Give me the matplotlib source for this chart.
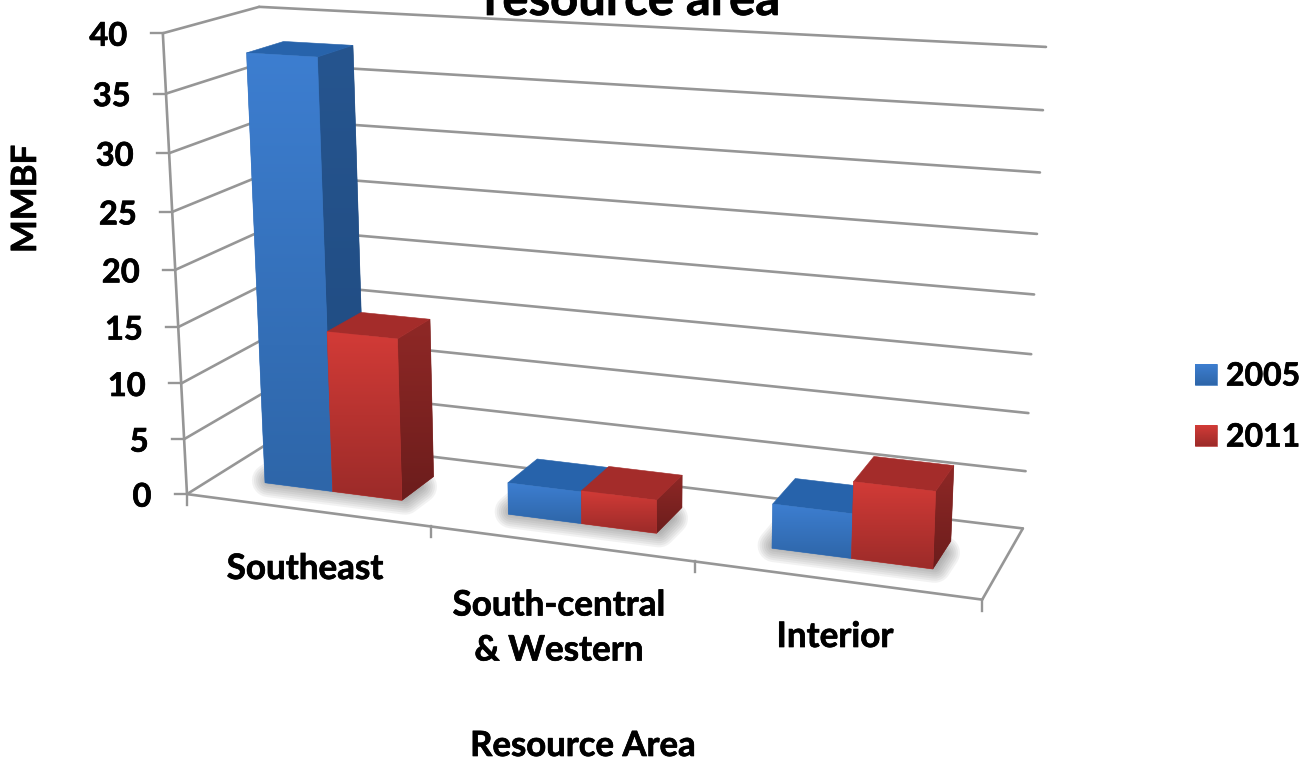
import numpy as np
import matplotlib
matplotlib.use('Agg')
import matplotlib.pyplot as plt
import matplotlib.patheffects as pe
from matplotlib.patches import Polygon
from matplotlib.colors import to_rgb

categories = ['Southeast', 'South-central\n& Western', 'Interior']
series_names = ['2005', '2011']
values_2005 = [37.9, 2.8, 3.8]
values_2011 = [14.4, 2.9, 6.5]
y_ticks = [0, 5, 10, 15, 20, 25, 30, 35, 40]
title = 'resource area'
x_title = 'Resource Area'
y_title = 'MMBF'

FONT = 'Lato'
GRID = '#969696'
STYLE = {
    '2005': dict(front=('#3d7ed0', '#2e66a9'), side=('#26558f', '#1f4a7f'), top='#2763ab'),
    '2011': dict(front=('#d23b37', '#9c2b29'), side=('#8f2826', '#6c1d1c'), top='#a42c2a'),
}

# perspective camera: (category position, depth, value) -> figure pixels
world = np.array([(0, 0, 0), (3, 0, 0), (3, 1, 0), (0, 1, 0), (0, 0, 40), (3, 1, 40), (0, 1, 40)], float)
screen = np.array([(187, 494), (982, 600), (1023, 528), (277, 438), (163, 33), (1046, 47), (259, 7)], float)
rows, rhs = [], []
for (a, b, c), (u, v) in zip(world, screen):
    rows.append([a, b, c, 1, 0, 0, 0, 0, -u * a, -u * b, -u * c]); rhs.append(u)
    rows.append([0, 0, 0, 0, a, b, c, 1, -v * a, -v * b, -v * c]); rhs.append(v)
H = np.append(np.linalg.lstsq(np.array(rows), np.array(rhs), rcond=None)[0], 1).reshape(3, 4)


def P(x, d, z):
    u, v, w = H @ np.array([x, d, z, 1.0])
    return (u / w, v / w)


fig = plt.figure(figsize=(13.05, 7.6), dpi=100)
ax = fig.add_axes([0, 0, 1, 1])
ax.axis('off')
BOLD = [pe.withStroke(linewidth=0.5, foreground='black')]


def label(u, v, s, size, **kw):
    kw.setdefault('ha', 'center')
    kw.setdefault('va', 'center')
    return ax.text(u, v, s, fontsize=size, family=FONT, weight='bold', color='black', path_effects=BOLD, **kw)


def line(a, b, z=1):
    ax.plot([a[0], b[0]], [a[1], b[1]], color=GRID, lw=1.9, solid_capstyle='round', zorder=z)


def grad(pts, c0, c1, z):
    pts = np.array(pts)
    n = 64
    t = np.linspace(0, 1, n)[:, None, None]
    img = (1 - t) * np.array(to_rgb(c0))[None, None, :] + t * np.array(to_rgb(c1))[None, None, :]
    mid = tuple(img[n // 2, 0])
    ax.add_patch(Polygon(pts, closed=True, fc=mid, ec=mid, lw=0.4, zorder=z))
    im = ax.imshow(img, extent=(pts[:, 0].min(), pts[:, 0].max(), pts[:, 1].max(), pts[:, 1].min()),
                   aspect='auto', interpolation='bilinear', zorder=z + 0.01)
    im.set_clip_path(Polygon(pts, closed=True, transform=ax.transData))


# walls and floor
for t in y_ticks:
    a, b, c = P(0, 0, t), P(0, 1, t), P(3, 1, t)
    line(a, b)
    line(b, c)
    ax.plot([a[0] - 12, a[0]], [a[1], a[1]], color=GRID, lw=1.7, zorder=1)
    label(a[0] - 35.5, a[1] + 3, str(t), 23.5, ha='right')
line(P(0, 0, 0), P(0, 0, 40))
line(P(0, 0, 0), P(3, 0, 0))
line(P(3, 0, 0), P(3, 1, 0))
for i in range(4):
    a = P(i, 0, 0)
    ax.plot([a[0], a[0]], [a[1], a[1] + 11], color=GRID, lw=1.7, zorder=1)

# bars
W = 0.286
MARGIN = 0.214
D0, D1 = 0.3, 0.7
for i in range(len(categories)):
    # soft shadow round the front part of the group footprint
    sd0, sd1 = D0 + 0.04, D1 - 0.17
    foot = [P(i + MARGIN, sd0, 0), P(i + MARGIN + 2 * W, sd0, 0),
            P(i + MARGIN + 2 * W, sd1, 0), P(i + MARGIN, sd1, 0)]
    for lw in range(24, 0, -3):
        ax.add_patch(Polygon(foot, closed=True, fc='#606060', ec='#606060', lw=lw, alpha=0.08,
                             joinstyle='round', zorder=2))
    for s, vals in enumerate([values_2005, values_2011]):
        st = STYLE[series_names[s]]
        v = vals[i]
        x0, x1 = i + MARGIN + s * W, i + MARGIN + (s + 1) * W
        z = 3 + s + i * 3
        grad([P(x1, D0, v), P(x1, D1, v), P(x1, D1, 0), P(x1, D0, 0)], *st['side'], z)
        ax.add_patch(Polygon([P(x0, D0, v), P(x1, D0, v), P(x1, D1, v), P(x0, D1, v)], closed=True,
                             fc=st['top'], ec=st['top'], lw=0.4, zorder=z + 0.1))
        grad([P(x0, D0, v), P(x1, D0, v), P(x1, D0, 0), P(x0, D0, 0)], *st['front'], z + 0.2)

# category labels
label_pos = [(305, 569), (559, 628), (835, 637)]
for name, (u, v) in zip(categories, label_pos):
    label(u, v, name, 25.2, linespacing=1.5, multialignment='center')

label(583, 746, x_title, 25)
label(26, 199, y_title, 25, rotation=90)
label(632, 15, title, 35.3, va='baseline')

# legend
for name, top in zip(series_names, (364, 425)):
    grad([(1195, top), (1217, top), (1217, top + 21), (1195, top + 21)], *STYLE[name]['front'], 10)
    label(1226, top + 12, name, 23, ha='left')

ax.set_xlim(0, 1305)
ax.set_ylim(760, 0)
fig.savefig('out.png', dpi=100)
